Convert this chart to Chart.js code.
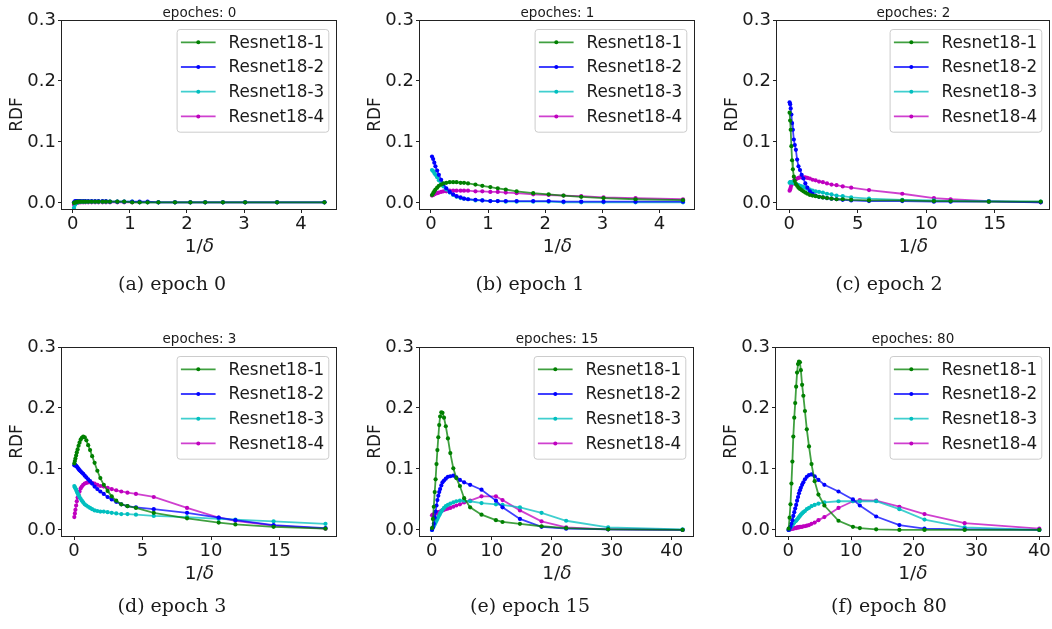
<!DOCTYPE html>
<html>
<head>
<meta charset="utf-8">
<script src="https://cdn.jsdelivr.net/npm/chart.js@4.4.0/dist/chart.umd.min.js"></script>
<style>
body { margin: 0; background: #fff; width: 1052px; height: 629px; overflow: hidden; position: relative; font-family: 'DejaVu Sans', sans-serif; }
canvas { position: absolute; }
.box { position: absolute; border: 1px solid #222; box-sizing: border-box; pointer-events: none; }
.ttl { position: absolute; font-size: 13.5px; transform: translate(-50%, -50%); white-space: nowrap; color: #1a1a1a; }
.xl { position: absolute; font-size: 18.5px; transform: translate(-50%, -50%); white-space: nowrap; color: #1a1a1a; }
.cap { position: absolute; font-family: 'DejaVu Serif', serif; font-size: 19px; transform: translate(-50%, -50%); white-space: nowrap; color: #1a1a1a; }
</style>
</head>
<body>
<script>
// series + tick labels
const seriesNames = ['Resnet18-1', 'Resnet18-2', 'Resnet18-3', 'Resnet18-4'];
const panelTitles = ['epoches: 0', 'epoches: 1', 'epoches: 2', 'epoches: 3', 'epoches: 15', 'epoches: 80'];
const captions = ['(a) epoch 0', '(b) epoch 1', '(c) epoch 2', '(d) epoch 3', '(e) epoch 15', '(f) epoch 80'];
const yTicks = [0, 0.1, 0.2, 0.3];
const xTicksA = [0, 1, 2, 3, 4];
const xTicksB = [0, 5, 10, 15];
const xTicksC = [0, 10, 20, 30, 40];

// 1/delta sample points
const xE01 = [0.02, 0.04, 0.06, 0.08, 0.11, 0.14, 0.18, 0.22, 0.27, 0.33, 0.39, 0.45, 0.52, 0.58, 0.65, 0.78, 0.90, 1.04, 1.17, 1.31, 1.50, 1.79, 2.06, 2.32, 2.63, 3.02, 3.58, 4.41];
const xE23 = [0.02, 0.06, 0.10, 0.15, 0.20, 0.26, 0.33, 0.40, 0.48, 0.57, 0.67, 0.78, 0.90, 1.03, 1.17, 1.32, 1.50, 1.70, 1.92, 2.17, 2.45, 2.75, 3.08, 3.45, 3.90, 4.52, 5.82, 8.25, 10.56, 11.78, 14.57, 18.36];
const xE15 = [0.05, 0.2, 0.35, 0.5, 0.65, 0.8, 0.95, 1.1, 1.25, 1.4, 1.6, 1.8, 2.05, 2.35, 2.7, 3.1, 3.6, 4.1, 4.7, 5.4, 6.4, 8.3, 10.7, 11.8, 14.7, 18.3, 22.4, 29.4, 41.8];
const xE80 = [0.05, 0.2, 0.35, 0.5, 0.65, 0.8, 0.95, 1.1, 1.25, 1.4, 1.55, 1.7, 1.85, 2.0, 2.2, 2.4, 2.65, 2.95, 3.3, 3.7, 4.2, 4.8, 5.75, 8.0, 10.3, 11.4, 14.0, 17.7, 21.7, 28.1, 40.0];

// epoch 0
const rdf0_1 = [0.000, 0.001, 0.001, 0.002, 0.002, 0.002, 0.002, 0.002, 0.002, 0.002, 0.002, 0.002, 0.002, 0.002, 0.002, 0.002, 0.002, 0.001, 0.001, 0.001, 0.001, 0.001, 0.001, 0.001, 0.001, 0.001, 0.001, 0.001];
const rdf0_2 = [0.001, 0.003, 0.003, 0.003, 0.003, 0.003, 0.003, 0.003, 0.003, 0.003, 0.003, 0.003, 0.003, 0.003, 0.002, 0.002, 0.002, 0.002, 0.002, 0.002, 0.001, 0.001, 0.001, 0.001, 0.001, 0.001, 0.001, 0.001];
const rdf0_3 = [-0.008, -0.003, 0.000, 0.001, 0.002, 0.002, 0.002, 0.002, 0.002, 0.002, 0.002, 0.002, 0.002, 0.002, 0.002, 0.002, 0.002, 0.002, 0.001, 0.001, 0.001, 0.001, 0.001, 0.001, 0.001, 0.001, 0.001, 0.001];
const rdf0_4 = [-0.003, -0.001, 0.000, 0.000, 0.001, 0.001, 0.001, 0.001, 0.001, 0.001, 0.001, 0.001, 0.001, 0.001, 0.001, 0.001, 0.001, 0.001, 0.001, 0.001, 0.001, 0.001, 0.001, 0.001, 0.001, 0.001, 0.001, 0.001];
// epoch 1
const rdf1_1 = [0.013, 0.016, 0.019, 0.022, 0.025, 0.028, 0.030, 0.032, 0.033, 0.034, 0.034, 0.034, 0.033, 0.033, 0.032, 0.030, 0.028, 0.026, 0.024, 0.022, 0.019, 0.016, 0.014, 0.012, 0.010, 0.008, 0.006, 0.0045];
const rdf1_2 = [0.076, 0.072, 0.066, 0.060, 0.053, 0.046, 0.038, 0.031, 0.024, 0.018, 0.014, 0.011, 0.009, 0.007, 0.006, 0.005, 0.004, 0.003, 0.003, 0.003, 0.003, 0.003, 0.003, 0.002, 0.002, 0.002, 0.002, 0.002];
const rdf1_3 = [0.054, 0.052, 0.049, 0.046, 0.042, 0.037, 0.032, 0.027, 0.022, 0.017, 0.013, 0.010, 0.008, 0.007, 0.006, 0.004, 0.004, 0.003, 0.003, 0.002, 0.002, 0.002, 0.002, 0.001, 0.001, 0.001, 0.001, 0.001];
const rdf1_4 = [0.012, 0.013, 0.014, 0.015, 0.016, 0.017, 0.018, 0.019, 0.019, 0.020, 0.020, 0.020, 0.020, 0.020, 0.020, 0.019, 0.019, 0.018, 0.018, 0.017, 0.016, 0.014, 0.013, 0.012, 0.011, 0.009, 0.008, 0.006];
// epoch 2
const rdf2_1 = [0.148, 0.135, 0.120, 0.093, 0.070, 0.055, 0.043, 0.036, 0.031, 0.028, 0.025, 0.023, 0.021, 0.019, 0.017, 0.015, 0.013, 0.012, 0.011, 0.010, 0.009, 0.008, 0.007, 0.006, 0.006, 0.005, 0.004, 0.004, 0.003, 0.003, 0.002, 0.002];
const rdf2_2 = [0.165, 0.162, 0.155, 0.145, 0.131, 0.120, 0.104, 0.095, 0.087, 0.071, 0.060, 0.054, 0.046, 0.040, 0.032, 0.025, 0.019, 0.015, 0.012, 0.010, 0.009, 0.008, 0.007, 0.006, 0.005, 0.004, 0.003, 0.003, 0.002, 0.002, 0.002, 0.001];
const rdf2_3 = [0.033, 0.034, 0.034, 0.034, 0.034, 0.033, 0.033, 0.032, 0.031, 0.030, 0.029, 0.028, 0.027, 0.026, 0.025, 0.023, 0.022, 0.020, 0.019, 0.018, 0.017, 0.015, 0.014, 0.012, 0.011, 0.009, 0.007, 0.005, 0.004, 0.003, 0.003, 0.002];
const rdf2_4 = [0.020, 0.022, 0.025, 0.029, 0.032, 0.034, 0.036, 0.038, 0.039, 0.040, 0.041, 0.042, 0.042, 0.042, 0.042, 0.041, 0.040, 0.038, 0.037, 0.035, 0.034, 0.032, 0.030, 0.029, 0.027, 0.025, 0.021, 0.015, 0.008, 0.006, 0.003, 0.001];
// epoch 3
const rdf3_1 = [0.109, 0.113, 0.117, 0.122, 0.127, 0.132, 0.138, 0.143, 0.148, 0.151, 0.153, 0.152, 0.147, 0.139, 0.131, 0.121, 0.110, 0.097, 0.085, 0.074, 0.064, 0.055, 0.048, 0.042, 0.039, 0.036, 0.028, 0.019, 0.012, 0.009, 0.005, 0.002];
const rdf3_2 = [0.106, 0.107, 0.106, 0.105, 0.104, 0.102, 0.100, 0.098, 0.096, 0.094, 0.092, 0.089, 0.086, 0.083, 0.080, 0.076, 0.071, 0.067, 0.063, 0.059, 0.054, 0.050, 0.046, 0.042, 0.039, 0.037, 0.034, 0.028, 0.020, 0.016, 0.008, 0.003];
const rdf3_3 = [0.072, 0.070, 0.068, 0.066, 0.063, 0.060, 0.057, 0.054, 0.051, 0.048, 0.045, 0.042, 0.040, 0.038, 0.036, 0.034, 0.032, 0.031, 0.030, 0.030, 0.029, 0.028, 0.027, 0.026, 0.026, 0.025, 0.023, 0.021, 0.018, 0.017, 0.014, 0.010];
const rdf3_4 = [0.021, 0.027, 0.033, 0.040, 0.047, 0.053, 0.058, 0.063, 0.068, 0.071, 0.074, 0.076, 0.077, 0.078, 0.078, 0.077, 0.076, 0.074, 0.072, 0.071, 0.069, 0.067, 0.065, 0.063, 0.061, 0.059, 0.054, 0.036, 0.020, 0.015, 0.007, 0.002];
// epoch 15
const rdf15_1 = [0.003, 0.018, 0.038, 0.062, 0.083, 0.108, 0.131, 0.152, 0.172, 0.186, 0.193, 0.192, 0.184, 0.170, 0.150, 0.126, 0.101, 0.085, 0.072, 0.052, 0.037, 0.025, 0.016, 0.013, 0.010, 0.006, 0.003, 0.001, 0.000];
const rdf15_2 = [0.000, 0.004, 0.010, 0.020, 0.030, 0.040, 0.049, 0.056, 0.062, 0.067, 0.073, 0.078, 0.081, 0.084, 0.087, 0.088, 0.089, 0.086, 0.082, 0.078, 0.074, 0.066, 0.048, 0.037, 0.018, 0.005, 0.002, 0.001, 0.000];
const rdf15_3 = [0.000, 0.003, 0.006, 0.009, 0.012, 0.015, 0.018, 0.021, 0.024, 0.027, 0.030, 0.033, 0.036, 0.039, 0.041, 0.043, 0.045, 0.047, 0.048, 0.048, 0.047, 0.044, 0.042, 0.041, 0.037, 0.028, 0.015, 0.004, 0.001];
const rdf15_4 = [0.024, 0.025, 0.025, 0.026, 0.027, 0.027, 0.028, 0.029, 0.029, 0.030, 0.031, 0.032, 0.033, 0.034, 0.035, 0.036, 0.038, 0.040, 0.042, 0.045, 0.048, 0.055, 0.055, 0.049, 0.032, 0.014, 0.004, 0.001, 0.000];
// epoch 80
const rdf80_1 = [0.002, 0.020, 0.042, 0.076, 0.112, 0.153, 0.184, 0.208, 0.235, 0.258, 0.272, 0.276, 0.275, 0.262, 0.238, 0.220, 0.195, 0.165, 0.137, 0.108, 0.080, 0.058, 0.040, 0.015, 0.005, 0.003, 0.001, 0.000, 0.000, 0.000, 0.000];
const rdf80_2 = [0.000, 0.002, 0.005, 0.010, 0.016, 0.023, 0.029, 0.035, 0.041, 0.048, 0.054, 0.060, 0.065, 0.069, 0.074, 0.078, 0.083, 0.087, 0.090, 0.091, 0.088, 0.082, 0.074, 0.063, 0.050, 0.040, 0.022, 0.008, 0.002, 0.001, 0.000];
const rdf80_3 = [0.000, 0.002, 0.004, 0.006, 0.008, 0.010, 0.012, 0.014, 0.015, 0.017, 0.019, 0.021, 0.023, 0.025, 0.027, 0.029, 0.031, 0.034, 0.036, 0.039, 0.041, 0.043, 0.045, 0.047, 0.047, 0.047, 0.047, 0.034, 0.017, 0.004, 0.000];
const rdf80_4 = [0.000, 0.001, 0.001, 0.002, 0.002, 0.002, 0.003, 0.003, 0.003, 0.004, 0.004, 0.004, 0.005, 0.005, 0.005, 0.006, 0.006, 0.007, 0.008, 0.010, 0.012, 0.016, 0.021, 0.036, 0.047, 0.049, 0.048, 0.038, 0.026, 0.011, 0.002];

// matplotlib g, b, c, m
const lineColors = ['rgba(0,128,0,0.75)', 'rgba(0,0,255,0.75)', 'rgba(0,191,191,0.75)', 'rgba(191,0,191,0.75)'];
const dotColors = ['#008000', '#0000ff', '#00bfbf', '#bf00bf'];

// where each axes box sits on the page
const panels = [
    { left: 62,  top: 20,  w: 275, xmin: -0.19, xmax: 4.63, xticks: xTicksA, xs: xE01, ys: [rdf0_1, rdf0_2, rdf0_3, rdf0_4] },
    { left: 420, top: 20,  w: 275, xmin: -0.19, xmax: 4.62, xticks: xTicksA, xs: xE01, ys: [rdf1_1, rdf1_2, rdf1_3, rdf1_4] },
    { left: 777, top: 20,  w: 273, xmin: -0.9,  xmax: 19.04, xticks: xTicksB, xs: xE23, ys: [rdf2_1, rdf2_2, rdf2_3, rdf2_4] },
    { left: 62,  top: 347, w: 275, xmin: -0.88, xmax: 19.2, xticks: xTicksB, xs: xE23, ys: [rdf3_1, rdf3_2, rdf3_3, rdf3_4] },
    { left: 420, top: 347, w: 274, xmin: -1.95, xmax: 43.7, xticks: xTicksC, xs: xE15, ys: [rdf15_1, rdf15_2, rdf15_3, rdf15_4] },
    { left: 776, top: 347, w: 274, xmin: -1.96, xmax: 41.7, xticks: xTicksC, xs: xE80, ys: [rdf80_1, rdf80_2, rdf80_3, rdf80_4] }
];
const capX = [172, 530, 889];
const capY = [283, 605];

const AXW = 62, PADTOP = 20, PLOTH = 189, XAXH = 30;

// legend in the upper right of the axes, like matplotlib's
const insideLegend = {
    id: 'insideLegend',
    afterDraw(chart) {
        const a = chart.chartArea, c = chart.ctx;
        const bw = 151.7, bh = 102.7;
        const bx = a.right - 8.7 - bw, by = a.top + 9;
        c.save();
        c.fillStyle = 'rgba(255,255,255,0.8)';
        c.strokeStyle = '#cccccc';
        c.lineWidth = 1;
        c.beginPath();
        c.roundRect(bx + 0.5, by + 0.5, bw, bh, 3);
        c.fill();
        c.stroke();
        c.font = '16.8px "DejaVu Sans"';
        c.textBaseline = 'middle';
        chart.data.datasets.forEach((ds, i) => {
            const cy = by + 13.3 + i * 24.7;
            c.strokeStyle = ds.borderColor;
            c.lineWidth = 1.8;
            c.beginPath();
            c.moveTo(bx + 4.3, cy);
            c.lineTo(bx + 39, cy);
            c.stroke();
            c.fillStyle = ds.pointBackgroundColor;
            c.beginPath();
            c.arc(bx + 21.7, cy, 2, 0, Math.PI * 2);
            c.fill();
            c.fillStyle = '#1a1a1a';
            c.fillText(ds.label, bx + 52, cy + 1);
        });
        c.restore();
    }
};

function addEl(cls, html, x, y) {
    const d = document.createElement('div');
    d.className = cls;
    d.innerHTML = html;
    d.style.left = x + 'px';
    d.style.top = y + 'px';
    document.body.appendChild(d);
    return d;
}

panels.forEach((p, i) => {
    const row = i < 3 ? 0 : 1;
    const rightPad = Math.min(6, 1052 - (p.left + p.w));
    const cv = document.createElement('canvas');
    cv.width = AXW + p.w + rightPad;
    cv.height = PADTOP + PLOTH + XAXH;
    cv.style.left = (p.left - AXW) + 'px';
    cv.style.top = (p.top - PADTOP) + 'px';
    document.body.appendChild(cv);

    new Chart(cv, {
        type: 'line',
        data: {
            datasets: seriesNames.map((name, k) => ({
                label: name,
                data: p.xs.map((x, j) => ({ x: x, y: p.ys[k][j] })),
                borderColor: lineColors[k],
                backgroundColor: dotColors[k],
                pointBackgroundColor: dotColors[k],
                pointBorderWidth: 0,
                pointRadius: 2.1,
                borderWidth: 1.8,
                tension: 0,
                fill: false
            }))
        },
        options: {
            responsive: false,
            animation: false,
            devicePixelRatio: 1,
            layout: { padding: { top: PADTOP, right: rightPad, left: 0, bottom: 0 }, autoPadding: false },
            plugins: { legend: { display: false }, tooltip: { enabled: false } },
            scales: {
                x: {
                    type: 'linear',
                    min: p.xmin,
                    max: p.xmax,
                    afterFit: s => { s.height = XAXH; },
                    afterBuildTicks: s => { s.ticks = p.xticks.map(v => ({ value: v })); },
                    ticks: { autoSkip: false, maxRotation: 0, padding: 1, color: '#1a1a1a', font: { family: 'DejaVu Sans', size: 18 }, callback: v => String(v) },
                    grid: { drawOnChartArea: false, drawTicks: true, tickLength: 4, color: '#222' },
                    border: { display: false }
                },
                y: {
                    min: -0.01,
                    max: 0.3,
                    afterFit: s => { s.width = AXW; },
                    afterBuildTicks: s => { s.ticks = yTicks.map(v => ({ value: v })); },
                    ticks: { autoSkip: false, padding: 2, color: '#1a1a1a', font: { family: 'DejaVu Sans', size: 18 }, callback: v => v.toFixed(1) },
                    grid: { drawOnChartArea: false, drawTicks: true, tickLength: 4, color: '#222' },
                    border: { display: false },
                    title: { display: true, text: 'RDF', color: '#1a1a1a', font: { family: 'DejaVu Sans', size: 17 }, padding: { top: 7, bottom: 0 } }
                }
            }
        },
        plugins: [insideLegend]
    });

    // the four spines
    const box = addEl('box', '', p.left - 1, p.top);
    box.style.width = (p.w + 1) + 'px';
    box.style.height = (PLOTH + 1) + 'px';

    const cx = p.left + p.w / 2;
    addEl('ttl', panelTitles[i], cx, row === 0 ? 11.7 : 338.3);
    addEl('xl', '1/<i>δ</i>', cx, row === 0 ? 245 : 572);
    addEl('cap', captions[i], capX[i % 3], capY[row]);
});
</script>
</body>
</html>
